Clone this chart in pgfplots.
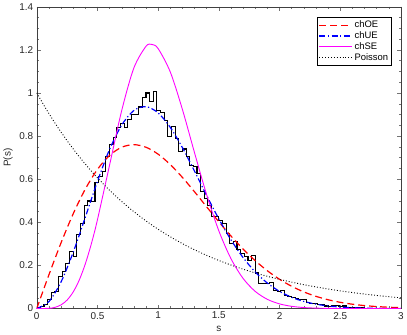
\documentclass[border=0pt]{standalone}
\usepackage{fontspec}
\setmainfont{Liberation Sans}
\usepackage{pgfplots}
\pgfplotsset{compat=1.18}
\definecolor{chmag}{RGB}{255,0,255}
\definecolor{chred}{RGB}{255,0,0}
\definecolor{chblue}{RGB}{0,0,255}
\begin{document}
\begin{tikzpicture}
\begin{axis}[
    scale only axis,
    width=365bp, height=302.5bp,
    xmin=0, xmax=3, ymin=0, ymax=1.4,
    xtick={0,0.5,...,3}, ytick={0,0.2,...,1.4},
    minor x tick num=4, minor y tick num=3,
    tick align=inside,
    major tick length=4bp, minor tick length=2.2bp,
    axis line style={black!75},
    every tick/.style={black!55},
    /pgf/number format/assume math mode=true,
    tick label style={font=\fontsize{10}{12}\selectfont, text=black!85},
    xticklabels={0,0.5,1,1.5,2,2.5,3},
    yticklabels={0,0.2,0.4,0.6,0.8,1,1.2,1.4},
    xlabel={s}, ylabel={P(s)},
    label style={font=\fontsize{10}{12}\selectfont, text=black!85},
    legend cell align=left,
    legend style={at={(0.975,0.965)}, anchor=north east,
        font=\fontsize{9.5}{11}\selectfont, inner sep=1.5pt,
        row sep=-1.5pt},
    legend image code/.code={\draw[#1] (0cm,0cm) -- (1.15cm,0cm);},
]
% histogram (bin left edges)
\addplot[const plot, black, line width=1.1pt, forget plot] coordinates {
(0,0.003) (0.03,0.008) (0.06,0.02) (0.09,0.04) (0.12,0.075) (0.15,0.078) (0.18,0.15) (0.21,0.172) (0.24,0.21) (0.27,0.264)
(0.30,0.243) (0.33,0.344) (0.36,0.395) (0.39,0.477) (0.42,0.499) (0.45,0.497) (0.48,0.585) (0.51,0.611) (0.54,0.634) (0.57,0.705)
(0.60,0.76) (0.63,0.792) (0.66,0.838) (0.69,0.858) (0.72,0.84) (0.75,0.878) (0.78,0.901) (0.81,0.90) (0.84,0.935) (0.87,0.98)
(0.90,1.0) (0.93,0.96) (0.96,1.008) (0.99,0.92) (1.02,0.91) (1.05,0.873) (1.08,0.80) (1.11,0.845) (1.14,0.79) (1.17,0.727)
(1.20,0.74) (1.23,0.704) (1.26,0.665) (1.29,0.66) (1.32,0.627) (1.35,0.542) (1.38,0.511) (1.41,0.48) (1.44,0.426) (1.47,0.426)
(1.50,0.41) (1.53,0.395) (1.56,0.349) (1.59,0.30) (1.62,0.31) (1.65,0.273) (1.68,0.256) (1.71,0.24) (1.74,0.225) (1.77,0.245)
(1.80,0.165) (1.83,0.117) (1.86,0.117) (1.89,0.115) (1.92,0.12) (1.95,0.085) (1.98,0.079) (2.01,0.085) (2.04,0.06) (2.07,0.056)
(2.10,0.05) (2.13,0.045) (2.16,0.04) (2.19,0.04) (2.22,0.03) (2.25,0.025) (2.28,0.025) (2.31,0.02) (2.34,0.02) (2.37,0.012)
(2.40,0.01) (2.43,0.012) (2.46,0.015) (2.49,0.008) (2.52,0.012) (2.55,0.006) (2.58,0.005) (2.61,0.004) (2.64,0.004) (2.67,0.003)
(2.70,0.002) (2.73,0.002) (2.76,0.001) (2.79,0.002) (2.82,0.001) (2.85,0.001) (2.88,0) (2.91,0.001) (2.94,0) (2.97,0) (3.0,0)
};
% chOE
\addplot[chred, line width=1.2pt, dash pattern=on 7bp off 4bp, smooth] coordinates {
(0,0) (0.1,0.1559) (0.2,0.3044) (0.3,0.4391) (0.4,0.5541) (0.5,0.6454) (0.6,0.7104) (0.7,0.7483) (0.8,0.7602) (0.9,0.7483)
(1.0,0.7162) (1.1,0.6680) (1.2,0.6083) (1.3,0.5415) (1.4,0.4717) (1.5,0.4025) (1.6,0.3365) (1.7,0.2759) (1.8,0.2220) (1.9,0.1752)
(2.0,0.1358) (2.1,0.1033) (2.2,0.0772) (2.3,0.0567) (2.4,0.0409) (2.5,0.0290) (2.6,0.0202) (2.7,0.0138) (2.8,0.0093) (2.9,0.0062) (3.0,0.0040)
};
% chUE
\addplot[chblue, line width=1.2pt, dash pattern=on 6bp off 2.5bp on 1.2bp off 2.5bp, smooth] coordinates {
(0,0) (0.1,0.0320) (0.2,0.1233) (0.3,0.2602) (0.4,0.4232) (0.5,0.5896) (0.6,0.7381) (0.7,0.8513) (0.8,0.9186) (0.9,0.9364)
(1.0,0.9076) (1.1,0.8405) (1.2,0.7464) (1.3,0.6371) (1.4,0.5240) (1.5,0.4158) (1.6,0.3188) (1.7,0.2364) (1.8,0.1698) (1.9,0.1181)
(2.0,0.0796) (2.1,0.0521) (2.2,0.0331) (2.3,0.0204) (2.4,0.0122) (2.5,0.0071) (2.6,0.0040) (2.7,0.0022) (2.8,0.0012) (2.9,0.0006) (3.0,0.0003)
};
% chSE
\addplot[chmag, line width=0.9pt, smooth] coordinates {
(0,0) (0.1,0.0011) (0.15,0.0056) (0.2,0.0170) (0.25,0.0393) (0.3,0.0766) (0.35,0.1319) (0.4,0.2067) (0.45,0.3007) (0.5,0.4116)
(0.6,0.6654) (0.7,0.9185) (0.8,1.1158) (0.9,1.2164) (0.95,1.2248) (1.0,1.2059) (1.1,1.0976) (1.2,0.9236) (1.3,0.7224) (1.4,0.5274)
(1.5,0.3605) (1.6,0.2313) (1.7,0.1397) (1.8,0.0795) (1.9,0.0427) (2.0,0.0217) (2.1,0.0104) (2.2,0.0047) (2.3,0.0021) (2.4,0.0008)
(2.5,0.0003) (2.6,0.0001) (2.7,0) (2.8,0) (2.9,0) (3.0,0)
};
% Poisson
\addplot[black, line width=0.9pt, dotted, smooth] coordinates {
(0,1) (0.1,0.9048) (0.2,0.8187) (0.3,0.7408) (0.4,0.6703) (0.5,0.6065) (0.6,0.5488) (0.7,0.4966) (0.8,0.4493) (0.9,0.4066)
(1.0,0.3679) (1.1,0.3329) (1.2,0.3012) (1.3,0.2725) (1.4,0.2466) (1.5,0.2231) (1.6,0.2019) (1.7,0.1827) (1.8,0.1653) (1.9,0.1496)
(2.0,0.1353) (2.1,0.1225) (2.2,0.1108) (2.3,0.1003) (2.4,0.0907) (2.5,0.0821) (2.6,0.0743) (2.7,0.0672) (2.8,0.0608) (2.9,0.0550) (3.0,0.0498)
};
\legend{chOE,chUE,chSE,Poisson}
\end{axis}
\end{tikzpicture}
\end{document}
